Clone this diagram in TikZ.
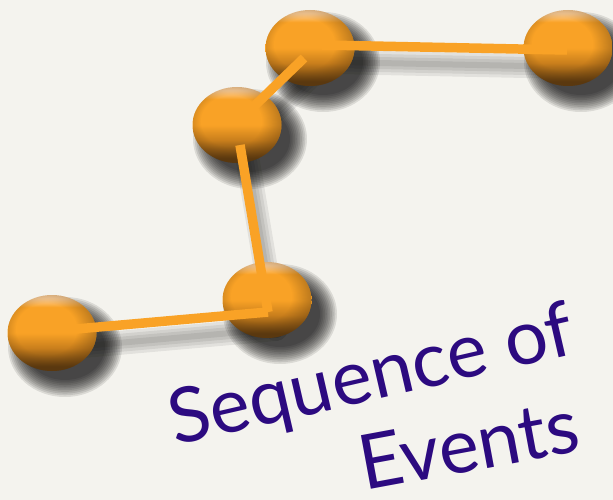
\documentclass[tikz,border=0pt]{standalone}
\usepackage{fontspec}
\newfontfamily\handfont{Lato}
\usetikzlibrary{shapes.geometric,fadings,calc}
\definecolor{bg}{HTML}{F4F3EE}
\definecolor{ballor}{HTML}{F9A226}
\definecolor{balllight}{HTML}{FFD3A0}
\definecolor{ballmid}{HTML}{C87E1C}
\definecolor{balldark}{HTML}{5A380F}
\definecolor{ink}{HTML}{2C0A80}
\pgfdeclareverticalshading{ballshade}{100bp}{color(0bp)=(balldark); color(25bp)=(balldark); color(28bp)=(balldark); color(40bp)=(ballmid); color(50bp)=(ballor); color(67bp)=(ballor); color(73bp)=(balllight); color(75bp)=(balllight); color(100bp)=(balllight)}
\pgfdeclareradialshading{rimshade}{\pgfpoint{-5bp}{4bp}}{color(0bp)=(black); color(17bp)=(black); color(30bp)=(white!50!black); color(50bp)=(white!50!black)}
\pgfdeclarefading{rimfade}{\pgfuseshading{rimshade}}
\tikzset{
  ball/.style={ellipse, minimum width=89pt, minimum height=76pt, inner sep=0pt,
    shading=ballshade,
    path picture={\fill[balldark, path fading=rimfade, fit fading=true]
      (path picture bounding box.south west) rectangle (path picture bounding box.north east);}},
  ballshadow/.style={fill=black, opacity=0.1},
  link/.style={draw=ballor, line width=9.5pt},
  linkshadow/.style={draw=black, opacity=0.07, line cap=round},
  title/.style={text=ink, font=\handfont\fontsize{76}{84}\selectfont, anchor=base west, inner sep=0pt}
}
\begin{document}
\begin{tikzpicture}[x=1pt,y=-1pt]
\fill[bg] (0,0) rectangle (613,500);
\useasboundingbox (0,0) rectangle (613,500);
% positions of balls
\coordinate (q1) at (52,333);
\coordinate (q2) at (267,300);
\coordinate (q3) at (237,125);
\coordinate (q4) at (310,48);
\coordinate (q5) at (568,48);
% line end points
\coordinate (p12a) at ($(q1)+(24,-4)$);
\coordinate (p12b) at ($(q2)+(1,12)$);
\coordinate (p23a) at ($(q3)+(3,20)$);
\coordinate (p23b) at ($(q2)+(1,12)$);
\coordinate (p34a) at ($(q3)+(9,-11)$);
\coordinate (p34b) at ($(q4)+(-6,10)$);
\coordinate (p45a) at ($(q4)+(12,-3)$);
\coordinate (p45b) at ($(q5)+(-1,2)$);
% link shadows
\foreach \w in {24,18,12,6}{
  \draw[linkshadow, line width=\w pt] ($(p12a)+(8,17)$) -- ($(p12b)+(8,17)$);
  \draw[linkshadow, line width=\w pt] ($(p23a)+(8,17)$) -- ($(p23b)+(8,17)$);
  \draw[linkshadow, line width=\w pt] ($(p34a)+(8,17)$) -- ($(p34b)+(8,17)$);
  \draw[linkshadow, line width=\w pt] ($(p45a)+(8,17)$) -- ($(p45b)+(8,17)$);
}
% ball shadows
\foreach \q in {q1,q2,q3,q4,q5}{
  \foreach \k in {0,...,10}{
    \fill[ballshadow] ($(\q)+(13,14)$) ellipse [x radius={57-1.7*\k}, y radius={50-1.7*\k}];
  }
}
% balls
\node[ball] (b1) at (q1) {};
\node[ball] (b2) at (q2) {};
\node[ball] (b3) at (q3) {};
\node[ball] (b4) at (q4) {};
\node[ball] (b5) at (q5) {};
% links
\draw[link] (p12a) -- (p12b);
\draw[link] (p23a) -- (p23b);
\draw[link] (p34a) -- (p34b);
\draw[link] (p45a) -- (p45b);
% title
\node[title, rotate=13] (t1) at (175,446) {Sequence of};
\node[title, rotate=10.5] (t2) at (364,491) {Events};
\end{tikzpicture}
\end{document}
